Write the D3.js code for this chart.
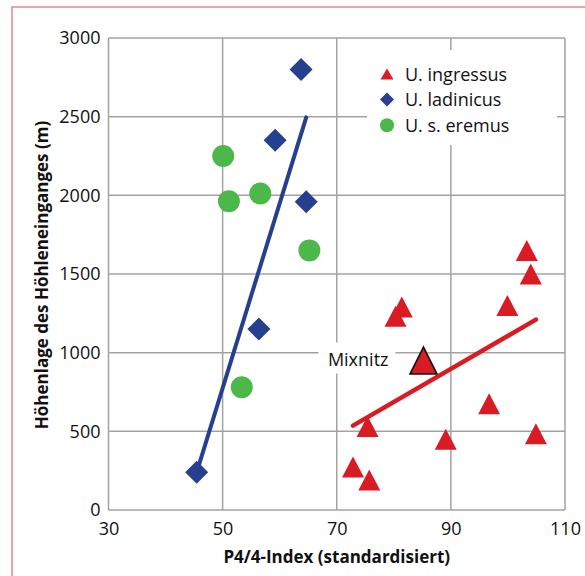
<!DOCTYPE html>
<html>
<head>
<meta charset="utf-8">
<script src="https://cdn.jsdelivr.net/npm/d3@7"></script>
<style>
  html, body { margin: 0; padding: 0; background: #fff; }
  svg { display: block; font-family: "Open Sans", "Noto Sans", sans-serif; }
</style>
</head>
<body>
<svg id="chart" width="585" height="576"></svg>
<script>
// P4/4-Index vs. cave entrance altitude for three cave bear groups
const xTicks = [30, 50, 70, 90, 110];
const yTicks = [0, 500, 1000, 1500, 2000, 2500, 3000];

const ingressusX = [103.3, 104.0, 99.9, 81.4, 80.3, 96.7, 75.4, 89.1, 104.9, 72.85, 75.7];
const ingressusY = [1650, 1500, 1300, 1290, 1232, 675, 530, 450, 485, 273, 191];

const ladinicusX = [63.75, 59.2, 64.65, 56.35, 45.45];
const ladinicusY = [2800, 2350, 1960, 1150, 240];

const eremusX = [50.1, 51.1, 56.6, 65.2, 53.35];
const eremusY = [2250, 1962, 2012, 1650, 780];

// Mixnitz belongs to U. ingressus and is highlighted separately
const mixnitzName = "Mixnitz";
const mixnitzX = 85.2;
const mixnitzY = 950;

const seriesNames = ["U. ingressus", "U. ladinicus", "U. s. eremus"];
const xTitle = "P4/4-Index (standardisiert)";
const yTitle = "Höhenlage des Höhleneinganges (m)";

const RED = "#d91b24", BLUE = "#263f8f", GREEN = "#4cb84a", GRID = "#a3a3a3";

const svg = d3.select("#chart");

const x = d3.scaleLinear().domain([30, 110]).range([108.5, 565]);
const y = d3.scaleLinear().domain([0, 3000]).range([510, 38]);

// outer frame
svg.append("rect")
  .attr("x", 12).attr("y", 7).attr("width", 640).attr("height", 640)
  .attr("fill", "#fff").attr("stroke", "#e06a6a").attr("stroke-width", 1.2);

// grid
const grid = svg.append("g").attr("stroke", GRID).attr("stroke-width", 1.5);
grid.selectAll("line.v").data(xTicks).join("line")
  .attr("x1", d => x(d)).attr("x2", d => x(d))
  .attr("y1", y(0)).attr("y2", y(3000));
grid.selectAll("line.h").data(yTicks).join("line")
  .attr("x1", x(30)).attr("x2", x(110))
  .attr("y1", d => y(d)).attr("y2", d => y(d));

// axes (labels only; lines come from the grid)
const yAxis = svg.append("g")
  .attr("transform", `translate(${x(30)},0)`)
  .call(d3.axisLeft(y).tickValues(yTicks).tickFormat(d3.format("d")).tickSize(0).tickPadding(8));
const xAxis = svg.append("g")
  .attr("transform", `translate(0,${y(0)})`)
  .call(d3.axisBottom(x).tickValues(xTicks).tickFormat(d3.format("d")).tickSize(0).tickPadding(12));
[xAxis, yAxis].forEach(a => {
  a.select(".domain").remove();
  a.selectAll("text").attr("font-size", 18).attr("fill", "#111")
    .attr("font-family", "'Open Sans', sans-serif");
});

// axis titles
svg.append("text")
  .attr("x", x(70)).attr("y", 563)
  .attr("text-anchor", "middle").attr("font-size", 17).attr("font-weight", "bold")
  .attr("fill", "#111").text(xTitle);
svg.append("text")
  .attr("transform", `translate(48,${(y(0) + y(3000)) / 2 + 1}) rotate(-90)`)
  .attr("text-anchor", "middle").attr("font-size", 17).attr("font-weight", "bold")
  .attr("fill", "#111").text(yTitle);

// marker shapes
const triPath = (w, h) => `M0,${-h / 2}L${w / 2},${h / 2}L${-w / 2},${h / 2}Z`;
const diaPath = s => `M0,${-s / 2}L${s / 2},0L0,${s / 2}L${-s / 2},0Z`;

// least-squares trend line over the x range of a series
function trend(xs, ys) {
  const mx = d3.mean(xs), my = d3.mean(ys);
  let sxy = 0, sxx = 0;
  xs.forEach((xv, i) => { sxy += (xv - mx) * (ys[i] - my); sxx += (xv - mx) ** 2; });
  const b = sxy / sxx, a = my - b * mx;
  const x0 = d3.min(xs), x1 = d3.max(xs);
  return [[x0, a + b * x0], [x1, a + b * x1]];
}

const plot = svg.append("g");

// U. s. eremus
plot.selectAll("circle.er").data(eremusX.map((v, i) => [v, eremusY[i]])).join("circle")
  .attr("cx", d => x(d[0])).attr("cy", d => y(d[1])).attr("r", 11)
  .attr("fill", GREEN);

// U. ladinicus
plot.selectAll("path.la").data(ladinicusX.map((v, i) => [v, ladinicusY[i]])).join("path")
  .attr("transform", d => `translate(${x(d[0])},${y(d[1])})`)
  .attr("d", diaPath(23)).attr("fill", BLUE);

// U. ingressus
plot.selectAll("path.in").data(ingressusX.map((v, i) => [v, ingressusY[i]])).join("path")
  .attr("transform", d => `translate(${x(d[0])},${y(d[1])})`)
  .attr("d", triPath(22, 21)).attr("fill", RED);

// trend lines
const line = d3.line().x(d => x(d[0])).y(d => y(d[1]));
plot.append("path").datum(trend(ladinicusX, ladinicusY))
  .attr("d", line).attr("stroke", BLUE).attr("stroke-width", 4)
  .attr("stroke-linecap", "round").attr("fill", "none");
plot.append("path").datum(trend(ingressusX.concat([mixnitzX]), ingressusY.concat([mixnitzY])))
  .attr("d", line).attr("stroke", RED).attr("stroke-width", 4.5)
  .attr("stroke-linecap", "round").attr("fill", "none");

// Mixnitz highlight with label
const mx = x(mixnitzX), my = y(mixnitzY);
svg.append("rect")
  .attr("x", mx - 105).attr("y", my - 18).attr("width", 77).attr("height", 31)
  .attr("fill", "#fff");
svg.append("text")
  .attr("x", mx - 35).attr("y", my + 5)
  .attr("text-anchor", "end").attr("font-size", 18).attr("fill", "#111")
  .text(mixnitzName);
svg.append("path")
  .attr("transform", `translate(${mx},${my})`)
  .attr("d", triPath(27, 27)).attr("fill", RED)
  .attr("stroke", "#111").attr("stroke-width", 1.6).attr("stroke-linejoin", "miter");

// legend
const lg = svg.append("g");
lg.append("rect").attr("x", 367).attr("y", 50).attr("width", 190).attr("height", 95).attr("fill", "#fff");
const rows = lg.selectAll("g.row").data(seriesNames).join("g")
  .attr("transform", (d, i) => `translate(387,${74 + i * 25.6})`);
rows.each(function (d, i) {
  const g = d3.select(this);
  if (i === 0) g.append("path").attr("d", triPath(13, 11)).attr("fill", RED);
  if (i === 1) g.append("path").attr("d", diaPath(14)).attr("fill", BLUE);
  if (i === 2) g.append("circle").attr("r", 7).attr("fill", GREEN);
  g.append("text").attr("x", 18).attr("y", 6.5).attr("font-size", 18).attr("fill", "#111").text(d);
});
</script>
</body>
</html>
